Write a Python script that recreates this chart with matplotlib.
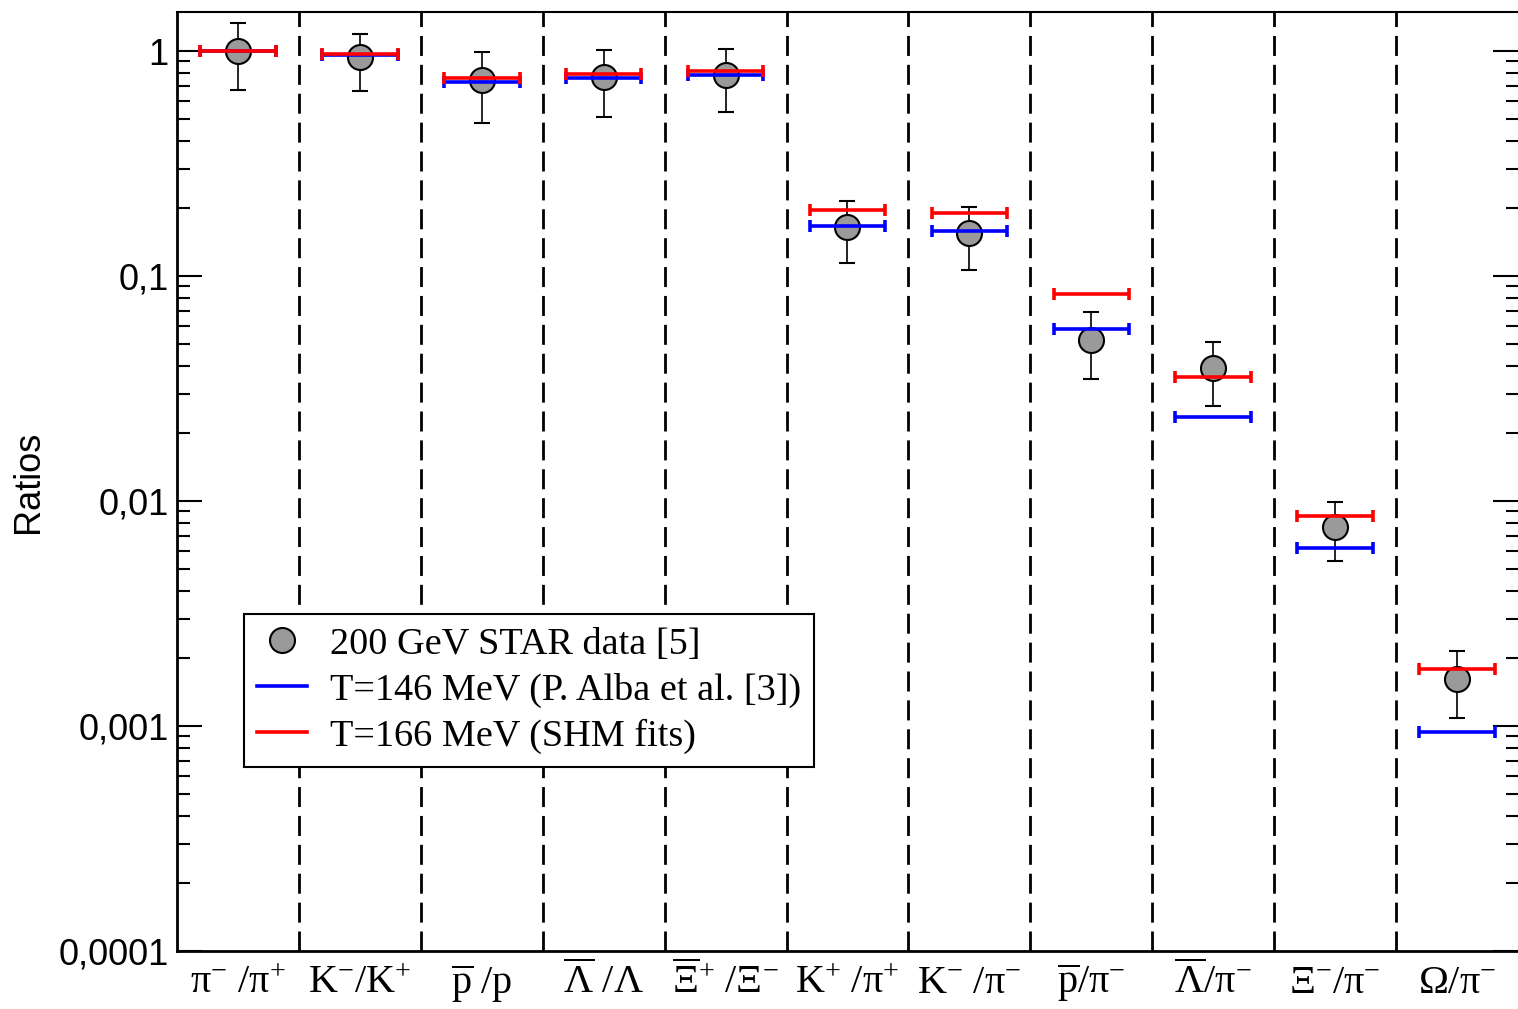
import matplotlib
matplotlib.use('Agg')
import matplotlib.pyplot as plt
from matplotlib.lines import Line2D
from matplotlib.ticker import LogLocator, NullFormatter

plt.rcParams['mathtext.fontset'] = 'custom'
plt.rcParams['mathtext.rm'] = 'Liberation Serif'
plt.rcParams['mathtext.it'] = 'Liberation Serif:italic'
plt.rcParams['mathtext.bf'] = 'Liberation Serif:bold'

# ratios (x labels)
etiquetas = [r'$\mathrm{\pi}^{-}\ /\mathrm{\pi}^{+}$',
             r'$\mathrm{K}^{-}/\mathrm{K}^{+}$',
             r'$\overline{\mathrm{p}}\ /\mathrm{p}$',
             r'$\overline{\Lambda}\ /\Lambda$',
             r'$\overline{\Xi}^{+}\ /\Xi^{-}$',
             r'$\mathrm{K}^{+}\ /\mathrm{\pi}^{+}$',
             r'$\mathrm{K}^{-}\ /\mathrm{\pi}^{-}$',
             r'$\overline{\mathrm{p}}/\mathrm{\pi}^{-}$',
             r'$\overline{\Lambda}/\mathrm{\pi}^{-}$',
             r'$\Xi^{-}/\mathrm{\pi}^{-}$',
             r'$\Omega/\mathrm{\pi}^{-}$']

# STAR 200 GeV data
star = [1.0, 0.94, 0.743, 0.766, 0.782, 0.165, 0.155, 0.052, 0.0389, 0.00764, 0.00162]
star_hi = [1.33, 1.19, 0.99, 1.01, 1.02, 0.216, 0.203, 0.069, 0.0509, 0.00993, 0.00215]
star_lo = [0.671, 0.664, 0.479, 0.509, 0.536, 0.1146, 0.106, 0.0347, 0.0265, 0.0054, 0.00108]

# modelos
t146 = [1.0, 0.965, 0.728, 0.759, 0.78, 0.1674, 0.159, 0.0583, 0.0237, 0.00616, 0.000944]
t166 = [1.0, 0.97, 0.759, 0.79, 0.815, 0.1965, 0.19, 0.0829, 0.0355, 0.00858, 0.00179]

n = len(star)
x = [i + 0.5 for i in range(n)]
err_lo = [s - l for s, l in zip(star, star_lo)]
err_hi = [h - s for s, h in zip(star, star_hi)]

fig = plt.figure(figsize=(15.18, 10.09), dpi=100)
ax = fig.add_axes([0.1166, 0.0575, 0.8834, 0.9305])

# separadores
for i in range(1, n):
    ax.axvline(i, color='black', lw=2.0, dashes=(7.2, 3.2), zorder=1)

ax.errorbar(x, star, yerr=[err_lo, err_hi], fmt='o', ms=18, mfc='#9a9a9a', mec='black',
            mew=1.5, ecolor='black', elinewidth=1.2, capsize=6, capthick=1.2, zorder=3)
ax.errorbar(x, t146, xerr=0.31, fmt='none', ecolor='#0000ff', elinewidth=2.6,
            capsize=4.5, capthick=2.6, zorder=4)
ax.errorbar(x, t166, xerr=0.31, fmt='none', ecolor='#ff0000', elinewidth=2.6,
            capsize=4.5, capthick=2.6, zorder=5)

ax.set_yscale('log')
ax.set_ylim(1e-4, 1.49)
ax.set_xlim(0, n)

ax.set_yticks([1e-4, 1e-3, 1e-2, 1e-1, 1])
ax.set_yticklabels(['0,0001', '0,001', '0,01', '0,1', '1'], fontsize=26, family='Liberation Sans')
ax.yaxis.set_minor_locator(LogLocator(base=10, subs=range(2, 10)))
ax.yaxis.set_minor_formatter(NullFormatter())
ax.tick_params(axis='y', which='both', direction='in', left=True, right=True, width=1.5, pad=6)
ax.tick_params(axis='y', which='major', length=18)
ax.tick_params(axis='y', which='minor', length=9)

ax.set_xticks(x)
ax.set_xticklabels(etiquetas, fontsize=29)
ax.tick_params(axis='x', length=0, pad=8)

ax.set_ylabel('Ratios', fontsize=26, family='Liberation Sans')
ax.yaxis.set_label_coords(-0.098, 0.5)

ax.spines['right'].set_visible(False)
for lado in ['left', 'bottom']:
    ax.spines[lado].set_linewidth(2)
ax.spines['top'].set_linewidth(1.5)

manejadores = [
    Line2D([], [], marker='o', ls='none', ms=18, mfc='#9a9a9a', mec='black', mew=1.5),
    Line2D([], [], color='#0000ff', lw=2.6),
    Line2D([], [], color='#ff0000', lw=2.6),
]
nombres = ['200 GeV STAR data [5]', 'T=146 MeV (P. Alba et al. [3])', 'T=166 MeV (SHM fits)']
leg = ax.legend(manejadores, nombres, loc='lower left', bbox_to_anchor=(0.05, 0.196),
                borderaxespad=0, fancybox=False, framealpha=1, edgecolor='black',
                prop={'family': 'Liberation Serif', 'size': 27.5}, handlelength=1.3,
                labelspacing=0.28, handletextpad=0.6, borderpad=0.35)
leg.get_frame().set_linewidth(1.5)

fig.savefig('out.png', dpi=100)
